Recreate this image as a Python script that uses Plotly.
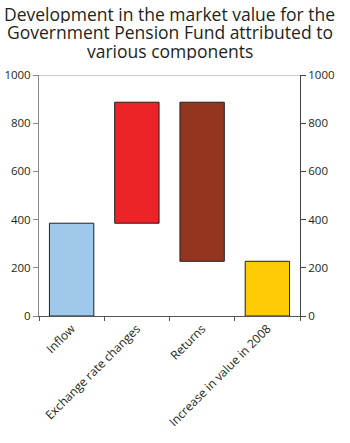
import plotly.graph_objects as go
import numpy as np

categories = ["Inflow", "Exchange rate changes", "Returns", "Increase in value in 2008"]
changes = [385, 502, -660]          # contributions (NOK bn)
total_label = 227                    # increase in value in 2008
colors = ["#9fc9ea", "#ed2227", "#94361f", "#ffcb05"]
y_ticks = [0, 200, 400, 600, 800, 1000]
title_lines = ["Development in the market value for the",
               "Government Pension Fund attributed to",
               "various components"]

cum = np.cumsum(changes)
bases = [0, cum[0], cum[2], 0]
heights = [changes[0], changes[1], cum[1] - cum[2], total_label]

font = "Open Sans"
ink = "#231f20"
H = 443

fig = go.Figure()
fig.add_trace(go.Bar(
    x=categories, y=heights, base=bases,
    marker=dict(color=colors, line=dict(color=ink, width=1)),
    width=0.68, showlegend=False, hoverinfo="skip",
))
fig.add_trace(go.Scatter(x=categories, y=[None]*4, yaxis="y2", showlegend=False,
                         hoverinfo="skip"))

annotations = []
for i, line in enumerate(title_lines):
    py = 13.5 + 19 * i  # pixel center from top
    annotations.append(dict(
        text=line, xref="paper", yref="paper", x=0.5, xanchor="center",
        y=(316 - py) / 241, yanchor="middle", showarrow=False, height=18,
        borderpad=0, font=dict(family=font, size=17.5, color=ink),
    ))

fig.update_layout(
    width=350, height=H,
    margin=dict(l=39, r=50, t=75, b=127, autoexpand=False),
    paper_bgcolor="white", plot_bgcolor="white",
    annotations=annotations,
    font=dict(family=font, size=11.5, color=ink),
    xaxis=dict(
        type="category", tickangle=-45, ticks="outside", tickson="boundaries",
        ticklen=4, tickcolor="#555", showline=True, linecolor="#555", linewidth=1,
        showgrid=False, tickfont=dict(size=12, color=ink), automargin=False,
        range=[-0.5, 3.5],
    ),
    yaxis=dict(
        range=[0, 1000], tickvals=y_ticks, ticks="outside", ticklen=5,
        tickcolor="#888", showline=True, linecolor="#888", linewidth=1,
        showgrid=False, zeroline=False, tickfont=dict(size=11.5, color=ink),
        automargin=False,
    ),
    yaxis2=dict(
        range=[0, 1000], tickvals=y_ticks, ticks="outside", ticklen=5,
        tickcolor="#444", showline=True, linecolor="#444", linewidth=1,
        showgrid=False, zeroline=False, overlaying="y", side="right",
        tickfont=dict(size=11.5, color=ink), automargin=False,
    ),
    shapes=[dict(type="line", xref="paper", yref="y", x0=0, x1=1, y0=1000, y1=1000,
                 line=dict(color="#999", width=1))],
)

fig.write_html("out.html")
